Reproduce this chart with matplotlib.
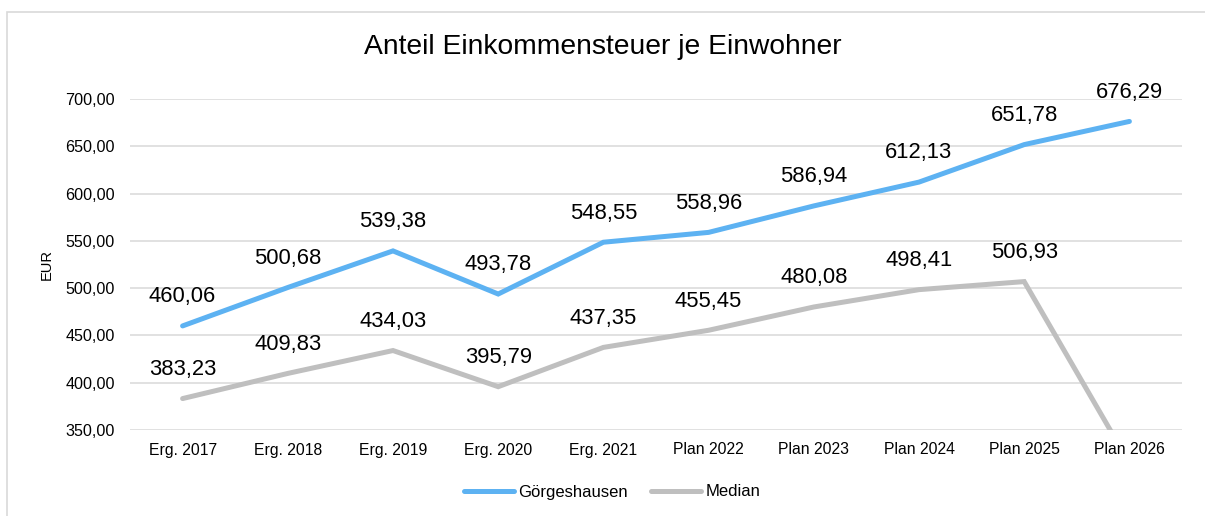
import numpy as np
import matplotlib.pyplot as plt
from matplotlib.patches import Rectangle

plt.rcParams['font.family'] = ['Liberation Sans', 'DejaVu Sans']

# data
categories = ["Erg. 2017", "Erg. 2018", "Erg. 2019", "Erg. 2020", "Erg. 2021",
              "Plan 2022", "Plan 2023", "Plan 2024", "Plan 2025", "Plan 2026"]
goergeshausen = [460.06, 500.68, 539.38, 493.78, 548.55, 558.96, 586.94, 612.13, 651.78, 676.29]
median = [383.23, 409.83, 434.03, 395.79, 437.35, 455.45, 480.08, 498.41, 506.93, 315.0]
yticks = [350, 400, 450, 500, 550, 600, 650, 700]


def de_fmt(v):
    return f"{v:.2f}".replace(".", ",")


fig = plt.figure(figsize=(12.05, 5.16), dpi=100)
# chart border (only top/left visible in the crop)
fig.patches.append(Rectangle((7 / 1205, -0.1), 1.2, 1 - 12 / 516 + 0.1,
                             transform=fig.transFigure, fill=False,
                             edgecolor="#D9D9D9", linewidth=1.2))

ax = fig.add_axes([130 / 1205, 1 - 430 / 516, (1182 - 130) / 1205, (430 - 99) / 516])
x = np.arange(len(categories))

ax.plot(x, goergeshausen, color="#5DB2F2", linewidth=3.6, label="Görgeshausen",
        solid_capstyle="round", solid_joinstyle="miter")
ax.plot(x, median, color="#BFBFBF", linewidth=3.6, label="Median",
        solid_capstyle="round", solid_joinstyle="miter")

for series in (goergeshausen, median):
    for xi, v in zip(x, series):
        if v < 350:
            continue
        ax.annotate(de_fmt(v), (xi, v), xytext=(0, 21), textcoords="offset points",
                    ha="center", va="center", fontsize=15.8, color="black")

ax.set_xlim(-0.5, len(categories) - 0.5)
ax.set_ylim(350, 700)
ax.set_yticks(yticks)
ax.set_yticklabels([de_fmt(t) for t in yticks], fontsize=11.6)
ax.set_xticks(x)
ax.set_xticklabels(categories, fontsize=11.3)
ax.tick_params(length=0, pad=11)
ax.tick_params(axis="x", pad=9)
ax.grid(axis="y", color="#D9D9D9", linewidth=1.1)
ax.set_axisbelow(True)
for s in ax.spines.values():
    s.set_visible(False)
ax.set_ylabel("EUR", fontsize=10.5, labelpad=8)

fig.text(0.5, 1 - 47 / 516, "Anteil Einkommensteuer je Einwohner",
         ha="center", va="center", fontsize=20.3)

fig.legend(loc="center", bbox_to_anchor=(612 / 1205, 1 - 492 / 516), ncol=2, frameon=False,
           fontsize=12, handlelength=3.0, handletextpad=0.25, columnspacing=1.4)

fig.savefig("out.png", dpi=100)
